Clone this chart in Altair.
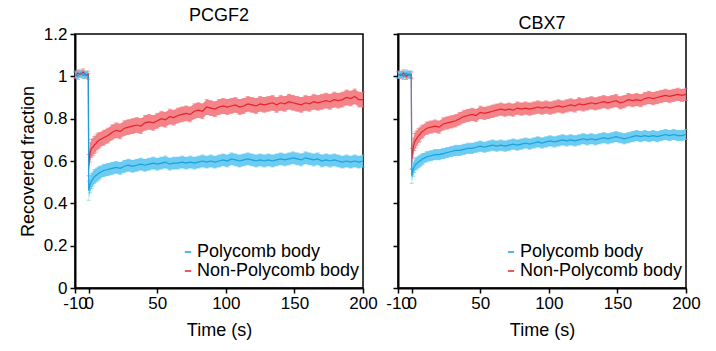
import altair as alt
import pandas as pd

FONT = "Liberation Sans"
RED_LINE = "#E8222B"
RED_BAND = "#F2777C"
BLUE_LINE = "#1BA0DC"
BLUE_BAND = "#5DC6EF"

pre_t = [-10, -8, -6, -4, -2, -0.3]
post_t = [0, 1, 2, 3, 4, 5, 6, 7, 8] + list(range(11, 201, 3))
times = pre_t + post_t

# PCGF2
pcgf2_non = [1.005, 1.015, 1.01, 1.02, 1.005, 1.01,
             0.58, 0.64, 0.66, 0.665, 0.675, 0.68, 0.69, 0.695, 0.70,
             0.71, 0.72, 0.735, 0.745, 0.74, 0.755, 0.76, 0.765, 0.77, 0.765,
             0.78, 0.785, 0.78, 0.79, 0.80, 0.795, 0.81, 0.805, 0.815, 0.82,
             0.825, 0.82, 0.835, 0.84, 0.835, 0.855, 0.85, 0.845, 0.855, 0.86,
             0.855, 0.86, 0.865, 0.855, 0.86, 0.87, 0.865, 0.86, 0.87, 0.865,
             0.87, 0.875, 0.865, 0.875, 0.87, 0.88, 0.875, 0.87, 0.865, 0.875,
             0.87, 0.88, 0.875, 0.88, 0.885, 0.88, 0.89, 0.885, 0.89, 0.90,
             0.895, 0.905, 0.89, 0.89]
pcgf2_poly = [1.01, 1.0, 1.015, 1.005, 1.01, 1.0,
              0.46, 0.49, 0.505, 0.515, 0.525, 0.53, 0.535, 0.54, 0.545,
              0.555, 0.56, 0.565, 0.57, 0.565, 0.575, 0.58, 0.575, 0.58, 0.585,
              0.58, 0.585, 0.59, 0.585, 0.59, 0.595, 0.585, 0.59, 0.59, 0.595,
              0.59, 0.595, 0.59, 0.595, 0.60, 0.595, 0.60, 0.595, 0.60, 0.605,
              0.60, 0.61, 0.605, 0.60, 0.605, 0.61, 0.605, 0.60, 0.605, 0.60,
              0.605, 0.60, 0.605, 0.61, 0.605, 0.61, 0.615, 0.61, 0.605, 0.615,
              0.61, 0.605, 0.61, 0.60, 0.605, 0.60, 0.605, 0.60, 0.595, 0.60,
              0.595, 0.60, 0.595, 0.60]
pcgf2_non_err = [0.015] * 6 + [0.05, 0.045, 0.042, 0.04, 0.04, 0.038, 0.037, 0.036, 0.035] + [0.035] * 64
pcgf2_poly_err = [0.015] * 6 + [0.045, 0.04, 0.035, 0.033, 0.032, 0.03, 0.03, 0.03, 0.03] + [0.028] * 64

# CBX7
cbx7_non = [1.01, 1.005, 1.015, 1.0, 1.01, 1.005,
            0.61, 0.66, 0.69, 0.70, 0.71, 0.72, 0.725, 0.735, 0.74,
            0.755, 0.76, 0.765, 0.76, 0.775, 0.78, 0.785, 0.79, 0.80, 0.81,
            0.815, 0.82, 0.815, 0.83, 0.825, 0.83, 0.835, 0.84, 0.845, 0.84,
            0.845, 0.84, 0.85, 0.845, 0.85, 0.845, 0.85, 0.855, 0.85, 0.855,
            0.85, 0.855, 0.86, 0.855, 0.86, 0.865, 0.86, 0.87, 0.865, 0.87,
            0.875, 0.87, 0.875, 0.88, 0.875, 0.88, 0.885, 0.875, 0.88, 0.89,
            0.885, 0.89, 0.885, 0.895, 0.90, 0.895, 0.90, 0.905, 0.91, 0.905,
            0.91, 0.915, 0.91, 0.915]
cbx7_poly = [1.005, 1.01, 1.0, 1.015, 1.005, 1.01,
             0.53, 0.56, 0.575, 0.585, 0.59, 0.595, 0.60, 0.605, 0.61,
             0.62, 0.625, 0.63, 0.63, 0.635, 0.64, 0.645, 0.65, 0.65, 0.655,
             0.66, 0.66, 0.665, 0.67, 0.665, 0.67, 0.675, 0.67, 0.675, 0.67,
             0.675, 0.68, 0.675, 0.68, 0.685, 0.68, 0.685, 0.69, 0.685, 0.69,
             0.695, 0.69, 0.695, 0.70, 0.695, 0.70, 0.695, 0.70, 0.705, 0.70,
             0.705, 0.70, 0.705, 0.71, 0.705, 0.71, 0.715, 0.71, 0.705, 0.71,
             0.715, 0.72, 0.715, 0.72, 0.715, 0.72, 0.715, 0.72, 0.725, 0.72,
             0.725, 0.72, 0.72, 0.725]
cbx7_non_err = [0.015] * 6 + [0.05, 0.045, 0.04, 0.038, 0.035, 0.033, 0.032, 0.03, 0.03] + [0.029] * 64
cbx7_poly_err = [0.015] * 6 + [0.035, 0.032, 0.03, 0.028, 0.027, 0.026, 0.025, 0.025, 0.025] + [0.024] * 64

SERIES = ["Polycomb body", "Non-Polycomb body"]
X_TICKS = [-10, 0, 50, 100, 150, 200]
Y_TICKS = [0, 0.2, 0.4, 0.6, 0.8, 1.0, 1.2]


def frame(vals, errs, series):
    return pd.DataFrame({
        "t": times,
        "v": vals,
        "lo": [a - b for a, b in zip(vals, errs)],
        "hi": [a + b for a, b in zip(vals, errs)],
        "series": series,
    })


def panel(title, non, non_err, poly, poly_err, first):
    df = pd.concat([frame(non, non_err, SERIES[1]), frame(poly, poly_err, SERIES[0])], ignore_index=True)
    base = alt.Chart(df)
    x = alt.X("t:Q", scale=alt.Scale(domain=[-10, 200], nice=False),
              axis=alt.Axis(values=X_TICKS, title="Time (s)",
                            labelExpr="datum.value < 0 ? '-' + format(-datum.value, 'd') : datum.label",
                            labelOverlap=False, labelFlush=False, labelPadding=2, titlePadding=10))
    if first:
        yaxis = alt.Axis(values=Y_TICKS, format="~g",
                         title="Recovered fraction", titlePadding=6, labelPadding=3)
    else:
        yaxis = alt.Axis(values=Y_TICKS, labels=False, title=None)
    yscale = alt.Scale(domain=[0, 1.2], nice=False)
    y = alt.Y("v:Q", scale=yscale, axis=yaxis)

    layers = []
    for s, band in [(SERIES[1], RED_BAND), (SERIES[0], BLUE_BAND)]:
        b = base.transform_filter(alt.datum.series == s)
        layers.append(b.mark_area(color=band, opacity=0.9).encode(
            x=x, y=alt.Y("lo:Q", scale=yscale, axis=yaxis), y2="hi:Q"))
        layers.append(b.mark_tick(color=band, orient="horizontal", size=4, thickness=1).encode(x=x, y="hi:Q"))
        layers.append(b.mark_tick(color=band, orient="horizontal", size=4, thickness=1).encode(x=x, y="lo:Q"))
    line = base.mark_line(strokeWidth=1.2).encode(
        x=x, y=y,
        color=alt.Color("series:N", sort=SERIES,
                        scale=alt.Scale(domain=SERIES, range=[BLUE_LINE, RED_LINE]),
                        legend=alt.Legend(title=None, orient="none", legendX=104, legendY=209,
                                          symbolType="stroke",
                                          symbolSize=40, symbolStrokeWidth=1.5, labelFontSize=18,
                                          labelFont=FONT, rowPadding=1, labelOffset=0,
                                          padding=0, labelLimit=300)),
        order=alt.Order("t:Q"),
    )
    layers.append(line)
    return alt.layer(*layers).properties(
        width=288, height=254,
        title=alt.Title(title, fontSize=18, fontWeight="normal", font=FONT, offset=0,
                        color="black", frame="group"),
    )


left = panel("PCGF2", pcgf2_non, pcgf2_non_err, pcgf2_poly, pcgf2_poly_err, True)
right = panel("CBX7", cbx7_non, cbx7_non_err, cbx7_poly, cbx7_poly_err, False)

chart = alt.hconcat(left, right, spacing=6).resolve_scale(color="independent").properties(
    padding={"left": 18, "top": 6, "right": 5, "bottom": 5}
).configure(font=FONT).configure_view(
    stroke="black", strokeWidth=1.5
).configure_axis(
    grid=False, domainColor="black", domainWidth=2, tickColor="black", tickWidth=1.5,
    tickSize=5, labelColor="black", labelFontSize=17, labelFont=FONT,
    titleFontSize=18, titleFont=FONT, titleFontWeight="normal", titleColor="black",
)

chart.save("out.html", embed_options={"renderer": "svg", "actions": False})
